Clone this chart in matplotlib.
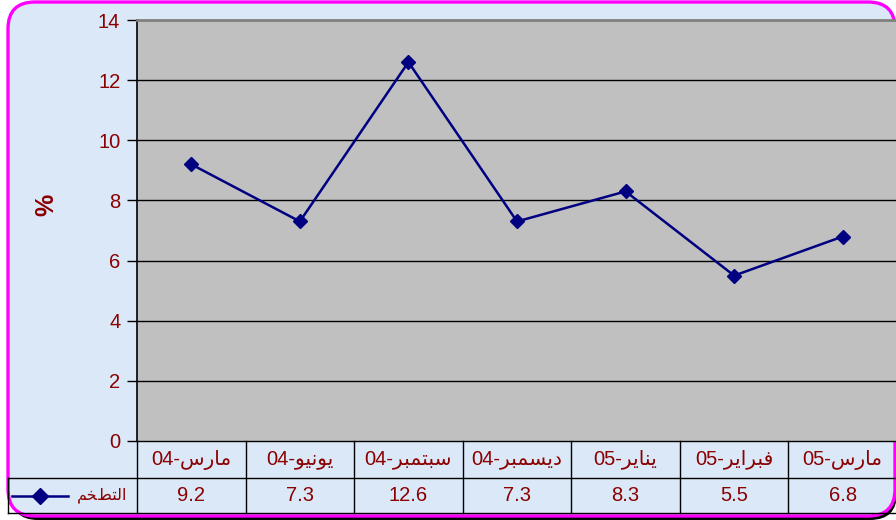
import matplotlib
matplotlib.use("Agg")
import matplotlib.pyplot as plt
from matplotlib.patches import FancyBboxPatch
from matplotlib.lines import Line2D
from matplotlib.transforms import blended_transform_factory

# Chart data
months = ["مارس", "يونيو", "سبتمبر", "ديسمبر", "يناير", "فبراير", "مارس"]
years = ["04", "04", "04", "04", "05", "05", "05"]
inflation = [9.2, 7.3, 12.6, 7.3, 8.3, 5.5, 6.8]
series_name = "التضخم"
y_ticks = [0, 2, 4, 6, 8, 10, 12, 14]

DARK_RED = "#8B0000"
NAVY = "#000080"
BG = "#DAE8F7"
FONT = ["Liberation Sans", "DejaVu Sans"]

# matplotlib does no Arabic shaping, so map letters to presentation forms
# (isolated, final, initial, medial) and lay them out in visual order.
FORMS = {
    "ا": ("\uFE8D", "\uFE8E", None, None),
    "ب": ("\uFE8F", "\uFE90", "\uFE91", "\uFE92"),
    "ت": ("\uFE95", "\uFE96", "\uFE97", "\uFE98"),
    "خ": ("\uFEA5", "\uFEA6", "\uFEA7", "\uFEA8"),
    "د": ("\uFEA9", "\uFEAA", None, None),
    "ر": ("\uFEAD", "\uFEAE", None, None),
    "س": ("\uFEB1", "\uFEB2", "\uFEB3", "\uFEB4"),
    "ض": ("\uFEBF", "\uFEC0", "\uFEC1", "\uFEC2"),
    "ف": ("\uFED1", "\uFED2", "\uFED3", "\uFED4"),
    "ل": ("\uFEDD", "\uFEDE", "\uFEDF", "\uFEE0"),
    "م": ("\uFEE1", "\uFEE2", "\uFEE3", "\uFEE4"),
    "ن": ("\uFEE5", "\uFEE6", "\uFEE7", "\uFEE8"),
    "و": ("\uFEED", "\uFEEE", None, None),
    "ي": ("\uFEF1", "\uFEF2", "\uFEF3", "\uFEF4"),
}


def shape(word):
    out = []
    for i, c in enumerate(word):
        f = FORMS.get(c)
        if f is None:
            out.append(c)
            continue
        prev = word[i - 1] if i > 0 else None
        nxt = word[i + 1] if i + 1 < len(word) else None
        jp = prev in FORMS and FORMS[prev][2] is not None
        jn = nxt in FORMS and f[2] is not None
        if jp and jn:
            out.append(f[3])
        elif jp:
            out.append(f[1])
        elif jn:
            out.append(f[2])
        else:
            out.append(f[0])
    return "".join(reversed(out))


W, H = 896, 520
fig = plt.figure(figsize=(W / 100, H / 100), dpi=100)
fig.patch.set_facecolor("white")

# rounded magenta frame with a dark shadow
shadow = FancyBboxPatch((11 / W, 1 - 520 / H), 886 / W, 514 / H,
                        boxstyle="round,pad=0,rounding_size=0.03",
                        transform=fig.transFigure, facecolor="black",
                        edgecolor="none", mutation_aspect=W / H, zorder=0)
frame = FancyBboxPatch((8 / W, 1 - 516 / H), 887 / W, 514 / H,
                       boxstyle="round,pad=0,rounding_size=0.03",
                       transform=fig.transFigure, facecolor=BG,
                       edgecolor="#FF00FF", linewidth=2.4,
                       mutation_aspect=W / H, zorder=1)
fig.patches.extend([shadow, frame])

left, right, top, bottom = 137, 897, 20, 441
ax = fig.add_axes([left / W, 1 - bottom / H, (right - left) / W, (bottom - top) / H])
ax.set_facecolor("#C0C0C0")
ax.set_zorder(2)

x = list(range(len(inflation)))
ax.plot(x, inflation, color=NAVY, lw=1.8, marker="D", markersize=7,
        markerfacecolor=NAVY, markeredgecolor=NAVY, zorder=3)

ax.set_xlim(-0.5, len(inflation) - 0.5)
ax.set_ylim(0, 14)
ax.set_yticks(y_ticks)
ax.set_yticklabels([str(t) for t in y_ticks], color=DARK_RED, fontsize=14.5, family=FONT)
ax.tick_params(axis="y", direction="out", length=7, width=1, pad=5, color="black")
ax.set_xticks([])
for t in y_ticks[1:-1]:
    ax.axhline(t, color="black", lw=1, zorder=1)

ax.spines["left"].set_color("black")
ax.spines["left"].set_linewidth(1.2)
ax.spines["top"].set_color("#808080")
ax.spines["top"].set_linewidth(2)
ax.spines["right"].set_color("#808080")
ax.spines["right"].set_linewidth(1.5)
ax.spines["bottom"].set_color("black")
ax.spines["bottom"].set_linewidth(1)

ax.text((46 - left) / (right - left), 1 - (205 - top) / (bottom - top), "%",
        transform=ax.transAxes, rotation=90, color=DARK_RED,
        fontsize=18, fontweight="bold", family=FONT, ha="center", va="center")

# data table under the plot: x in data units, y in axes fraction
tr = blended_transform_factory(ax.transData, ax.transAxes)
ph = bottom - top
row1 = -(478 - bottom) / ph
row2 = -(513 - bottom) / ph
colw = (right - left) / len(inflation)
x_leg = -0.5 - (left - 8) / colw
n = len(inflation)


def tline(xs, ys, **kw):
    ax.add_line(Line2D(xs, ys, transform=tr, color="black", lw=1, clip_on=False, **kw))


for i in range(n + 1):
    tline([i - 0.5, i - 0.5], [0, row2])
tline([x_leg, x_leg], [row1, row2])
tline([x_leg, n - 0.5], [row1, row1])
tline([x_leg, n - 0.5], [row2, row2])

for i, (m, yr, v) in enumerate(zip(months, years, inflation)):
    ax.text(i, (0 + row1) / 2, yr + "-" + shape(m), transform=tr, ha="center",
            va="center", color=DARK_RED, fontsize=14.5, family=FONT)
    ax.text(i, (row1 + row2) / 2, f"{v:.1f}", transform=tr, ha="center",
            va="center", color=DARK_RED, fontsize=14.5, family=FONT)

# legend key inside the table
ymid = (row1 + row2) / 2
ax.text(-0.5 - 10 / colw, ymid, shape(series_name), transform=tr, ha="right",
        va="center", color=DARK_RED, fontsize=11.5, family=FONT)
kx0 = x_leg + 4 / colw
kx1 = x_leg + 60 / colw
ax.add_line(Line2D([kx0, kx1], [ymid, ymid], transform=tr, color=NAVY, lw=1.8,
                   clip_on=False))
ax.add_line(Line2D([(kx0 + kx1) / 2], [ymid], transform=tr, color=NAVY, marker="D",
                   markersize=8, clip_on=False))

fig.savefig("out.png", dpi=100, facecolor=fig.get_facecolor())
